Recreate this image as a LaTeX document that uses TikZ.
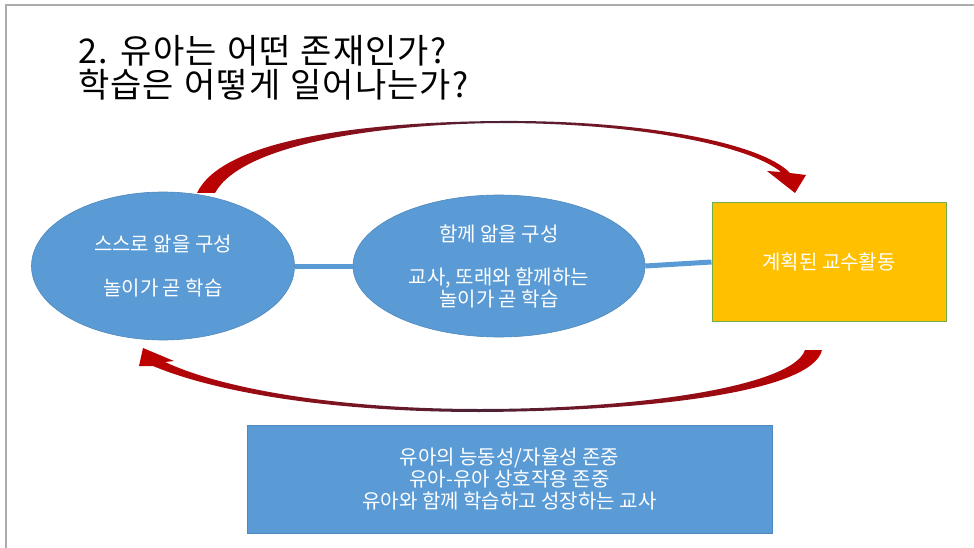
\documentclass[tikz,border=0pt]{standalone}
\usepackage{fontspec}
\setmainfont{Noto Sans CJK KR}
\newfontfamily\titlefont[LetterSpace=3,WordSpace=1.2]{Noto Sans CJK KR}
\usetikzlibrary{shapes.geometric}
\definecolor{boxblue}{HTML}{5B9BD5}
\definecolor{boxedge}{HTML}{4F88BC}
\definecolor{planorange}{HTML}{FFC000}
\definecolor{planedge}{HTML}{70AD47}
\definecolor{arrowred}{HTML}{C00000}
\definecolor{arrowdark}{HTML}{4A2238}
\tikzset{
  bubble/.style={ellipse, fill=boxblue, draw=boxedge, line width=0.6pt, text=white,
    align=center, inner sep=0pt, font=\fontsize{20}{22}\selectfont},
  plan/.style={rectangle, fill=planorange, draw=planedge, line width=1pt, text=white,
    inner sep=0pt, font=\fontsize{20}{22}\selectfont},
  note/.style={rectangle, fill=boxblue, draw=boxedge, line width=0.8pt, text=white,
    align=center, inner sep=0pt, font=\fontsize{20}{22}\selectfont},
  link/.style={draw=boxblue, line width=5pt},
  cyclearrow/.style={left color=arrowred, right color=arrowred, middle color=arrowdark}
}
\begin{document}
\begin{tikzpicture}[x=1pt,y=-1pt]
\useasboundingbox (0,0) rectangle (974,548);
\draw[gray!65, line width=1.5pt] (6,548) -- (6,5) -- (974,5);
\node[anchor=north west, align=left, inner sep=0pt,
  font=\titlefont\fontsize{34}{34}\selectfont] (title) at (78,35)
  {2. 유아는 어떤 존재인가?\\학습은 어떻게 일어나는가?};

\node[bubble, minimum width=263pt, minimum height=148pt] (self) at (163,266)
  {스스로 앎을 구성\\[22pt]놀이가 곧 학습};
\node[bubble, minimum width=292pt, minimum height=142pt] (together) at (499,266)
  {함께 앎을 구성\\[21pt]교사, 또래와 함께하는\\놀이가 곧 학습};
\node[plan, minimum width=234pt, minimum height=118pt] (plan) at (829,262)
  {계획된 교수활동};
\node[note, minimum width=525pt, minimum height=108pt] (respect) at (509.5,479)
  {유아의 능동성/자율성 존중\\유아-유아 상호작용 존중\\유아와 함께 학습하고 성장하는 교사};

\draw[link] (self.east) -- (together.west);
\draw[link] (together.east) -- (plan.west);

\shade[cyclearrow] (197,193) .. controls (222,140) and (360,122) .. (500,121)
  .. controls (640,120) and (760,142) .. (790,173)
  -- (806,175) -- (795,193) -- (767,171) -- (781,172)
  .. controls (750,146) and (640,123) .. (500,123)
  .. controls (385,124) and (242,143) .. (215,193) -- cycle;
\shade[cyclearrow] (805,350) .. controls (793,386) and (640,409) .. (480,409)
  .. controls (330,409) and (218,387) .. (165,362)
  -- (174,361) -- (143,348) -- (139,366) -- (153,366)
  .. controls (215,392) and (330,412) .. (480,412)
  .. controls (650,411) and (812,392) .. (822,350) -- cycle;
\end{tikzpicture}
\end{document}
